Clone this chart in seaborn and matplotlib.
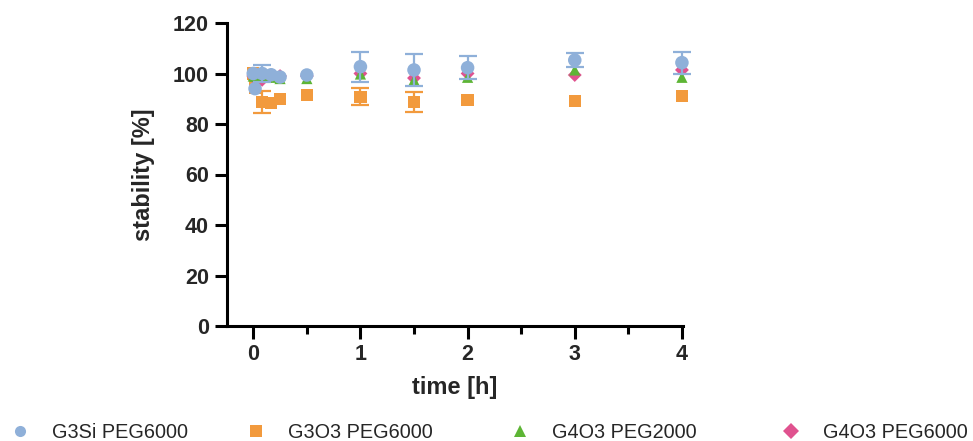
import numpy as np
import pandas as pd
import matplotlib
matplotlib.use("Agg")
import matplotlib.pyplot as plt
import seaborn as sns
from matplotlib.lines import Line2D

sns.set_style("ticks")
plt.rcParams['font.family'] = ['Liberation Sans', 'DejaVu Sans']

# ---- data ----
time_h = [0, 0.0167, 0.083, 0.167, 0.25, 0.5, 1, 1.5, 2, 3, 4]
series_names = ["G3Si PEG6000", "G3O3 PEG6000", "G4O3 PEG2000", "G4O3 PEG6000"]
g3si_peg6000 = [100, 94.0, 100.0, 99.5, 98.6, 99.4, 102.7, 101.4, 102.3, 105.3, 104.3]
g3si_sd      = [0, 0, 3.4, 0, 0, 0, 6.0, 6.3, 4.6, 2.9, 4.3]
g3o3_peg6000 = [100, 94.5, 88.7, 88.3, 90.0, 91.5, 90.8, 88.8, 89.5, 89.1, 91.1]
g3o3_sd      = [0, 0, 4.3, 0, 0, 0, 3.3, 4.0, 0, 0, 0]
g4o3_peg2000 = [99.0, 99.0, 99.0, 98.5, 98.0, 98.0, 99.8, 97.4, 98.5, 101.4, 98.5]
g4o3_2000_sd = [0, 0, 0, 0, 0, 0, 0, 0, 0, 0, 0]
g4o3_peg6000 = [99.0, 98.0, 97.5, 99.0, 99.0, 99.0, 100.0, 98.2, 100.0, 99.4, 101.4]
g4o3_6000_sd = [0, 0, 0, 0, 0, 0, 0, 0, 0, 0, 0]

colors = {"G3Si PEG6000": "#8FB0D9",
          "G3O3 PEG6000": "#F29A3D",
          "G4O3 PEG2000": "#5DB535",
          "G4O3 PEG6000": "#E0528F"}
markers = {"G3Si PEG6000": "o", "G3O3 PEG6000": "s",
           "G4O3 PEG2000": "^", "G4O3 PEG6000": "D"}
sizes = {"G3Si PEG6000": 95, "G3O3 PEG6000": 80,
         "G4O3 PEG2000": 65, "G4O3 PEG6000": 50}
zorders = {"G3Si PEG6000": 8, "G3O3 PEG6000": 5,
           "G4O3 PEG2000": 7, "G4O3 PEG6000": 6}

vals = {"G3Si PEG6000": (g3si_peg6000, g3si_sd),
        "G3O3 PEG6000": (g3o3_peg6000, g3o3_sd),
        "G4O3 PEG2000": (g4o3_peg2000, g4o3_2000_sd),
        "G4O3 PEG6000": (g4o3_peg6000, g4o3_6000_sd)}

rows = []
for name in series_names:
    m, s = vals[name]
    for t, mv, sv in zip(time_h, m, s):
        rows.append({"time": t, "stability": mv, "sd": sv, "series": name})
df = pd.DataFrame(rows)

fig = plt.figure(figsize=(9.73, 4.41), dpi=100)
ax = fig.add_axes([227/973, 1-326/441, (683-227)/973, (326-23)/441])

for name in series_names:
    sub = df[df["series"] == name]
    eb = sub[sub["sd"] > 0]
    if len(eb):
        ax.errorbar(eb["time"], eb["stability"], yerr=eb["sd"], fmt="none",
                    ecolor=colors[name], elinewidth=1.6, capsize=6.5, capthick=1.6,
                    zorder=zorders[name] + 0.5, clip_on=False)
    sns.scatterplot(data=sub, x="time", y="stability", ax=ax,
                    color=colors[name], marker=markers[name], s=sizes[name],
                    edgecolor="none", linewidth=0, zorder=zorders[name],
                    legend=False, clip_on=False)

ax.set_xlim(-0.245, 4.01)
ax.set_ylim(0, 120)
ax.set_xticks([0, 1, 2, 3, 4])
ax.set_xticks([0.5, 1.5, 2.5, 3.5], minor=True)
ax.set_yticks([0, 20, 40, 60, 80, 100, 120])
for sp in ["top", "right"]:
    ax.spines[sp].set_visible(False)
for sp in ["left", "bottom"]:
    ax.spines[sp].set_linewidth(2.2)
    ax.spines[sp].set_color("black")
ax.tick_params(axis="both", which="major", width=2.2, length=9, color="black",
               labelsize=15.5, pad=4)
ax.tick_params(axis="x", which="minor", width=2.2, length=5.5, color="black")
for lab in ax.get_xticklabels() + ax.get_yticklabels():
    lab.set_fontweight("bold")
ax.set_xlabel("time [h]", fontsize=17, fontweight="bold", labelpad=8)
ax.set_ylabel("stability [%]", fontsize=17, fontweight="bold", labelpad=13)

# legend entries, placed along the bottom
legend_x = [10/973, 246/973, 510/973, 781/973]
for name, lx in zip(series_names, legend_x):
    h = Line2D([], [], linestyle="none", marker=markers[name], color=colors[name],
               markersize=8, markeredgewidth=0)
    fig.legend(handles=[h], labels=[name], loc="center left",
               bbox_to_anchor=(lx, 1 - 432/441), frameon=False, fontsize=14.3,
               handlelength=1.05, handletextpad=1.05, borderpad=0, borderaxespad=0)

fig.savefig("out.png", dpi=100)
